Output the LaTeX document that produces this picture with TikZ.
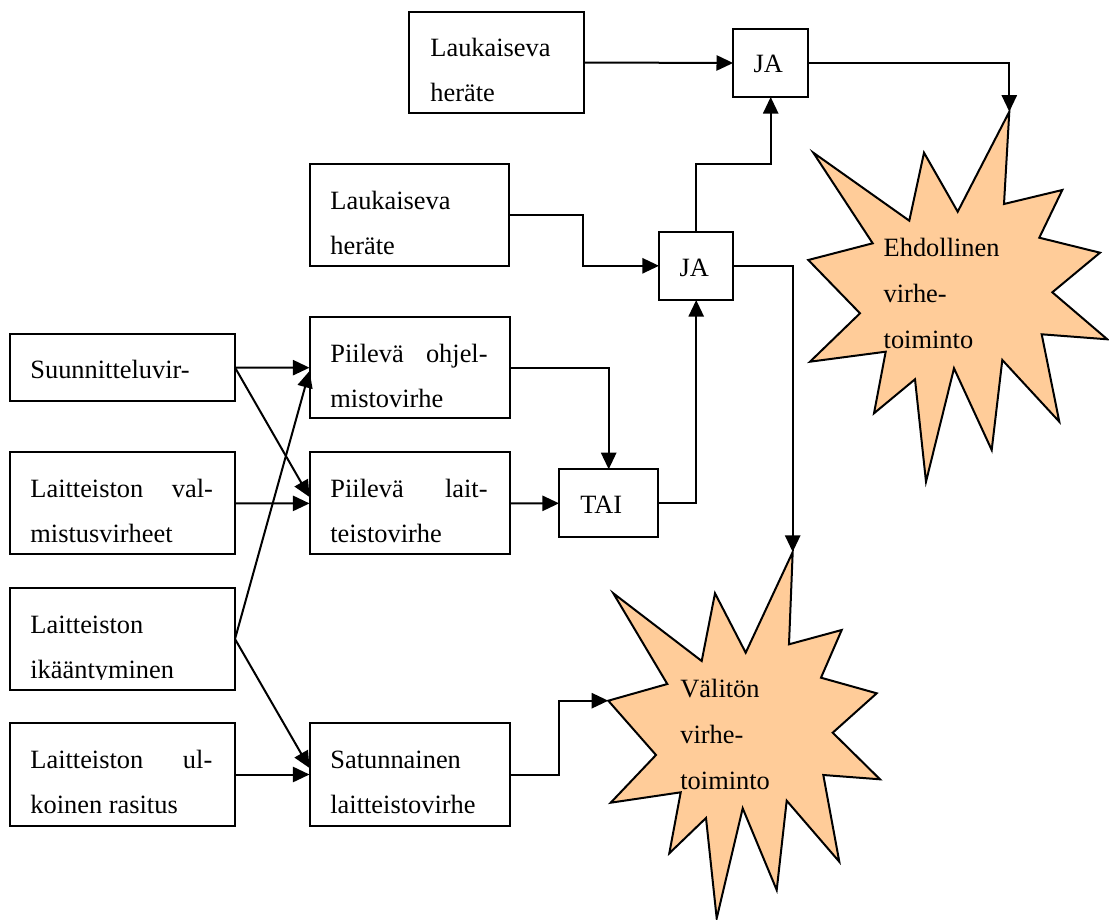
\documentclass[tikz,border=0pt]{standalone}
\usepackage{fontspec}
\setmainfont{Liberation Serif}
\usetikzlibrary{arrows.meta}
\definecolor{peach}{RGB}{255,204,153}
\begin{document}
\begin{tikzpicture}[x=0.5pt,y=-0.5pt,
  box/.style={draw, line width=1pt, inner sep=0pt, outer sep=0pt},
  txt/.style={anchor=base west, inner sep=0pt, font=\fontsize{13.2}{15}\selectfont},
  rtxt/.style={anchor=base east, inner sep=0pt, font=\fontsize{13.2}{15}\selectfont},
  conn/.style={line width=1pt, -{Triangle[length=8.3pt,width=7.6pt]}},
  burst/.style={draw, fill=peach, line width=1pt, line join=miter}
]
\useasboundingbox (0,0) rectangle (1109,920);

% stars
\coordinate (s1top) at (1009.3,111.7);
\draw[burst] (s1top) -- (1004,204) -- (1062.3,190) -- (1039.3,237.7) -- (1100,252.7)
  -- (1052.3,292.3) -- (1107.3,339.3) -- (1041.7,334.3) -- (1059.3,421.7) -- (1002.3,360)
  -- (991.7,450) -- (954,368.3) -- (926,481.7) -- (915,379.3) -- (874,413.3) -- (885.7,351.7)
  -- (810,361.7) -- (860,313.3) -- (808.3,260) -- (872.7,243.3) -- (813.3,152.7)
  -- (909.3,220.7) -- (924,152.7) -- (957.7,211.7) -- cycle;
\coordinate (s2top) at (792.7,552);
\coordinate (s2left) at (608.3,700.7);
\draw[burst] (s2top) -- (789,644.3) -- (841.7,630) -- (821,677.7) -- (876.7,693.3)
  -- (832.7,732.7) -- (880,779.3) -- (823.3,775) -- (839.3,861.7) -- (786.7,800.7)
  -- (776.7,890) -- (742.7,808.3) -- (716.7,918.3) -- (706,818) -- (669.3,853.3)
  -- (680.7,792.3) -- (610.7,802.7) -- (656,755) -- (s2left) -- (667.3,684)
  -- (613.3,593.3) -- (701.7,661) -- (715,593.3) -- (745.7,652.7) -- cycle;

% boxes
\node[box, minimum width=87.5pt, minimum height=50.5pt] (topL) at (496.5,62.5) {};
\node[box, minimum width=37.6pt, minimum height=34pt] (ja1) at (770.7,63) {};
\node[box, minimum width=99.7pt, minimum height=50.7pt] (L2) at (409.7,215) {};
\node[box, minimum width=37.2pt, minimum height=34.2pt] (ja2) at (696.2,265.8) {};
\node[box, minimum width=112.5pt, minimum height=33.5pt] (sv) at (122.5,367.5) {};
\node[box, minimum width=100pt, minimum height=50.7pt] (po) at (409.5,367.7) {};
\node[box, minimum width=112.5pt, minimum height=51pt] (lv) at (122.5,503.3) {};
\node[box, minimum width=100pt, minimum height=51pt] (pl) at (409.5,503.4) {};
\node[box, minimum width=49.7pt, minimum height=34pt] (tai) at (608.7,503.3) {};
\node[box, minimum width=112.5pt, minimum height=51pt] (ik) at (122.5,639) {};
\node[box, minimum width=112.5pt, minimum height=51.2pt] (ul) at (122.5,774.5) {};
\node[box, minimum width=100.1pt, minimum height=51.2pt] (sat) at (409.6,774.5) {};

% texts
\node[txt] (t1a) at (430,57) {Laukaiseva};
\node[txt] (t1b) at (430,102) {heräte};
\node[txt] (tja1) at (753.3,72.7) {JA};
\node[txt] (t2a) at (330,209) {Laukaiseva};
\node[txt] (t2b) at (330,254) {heräte};
\node[txt] (tja2) at (679.3,276) {JA};
\node[txt] (tsv) at (30,378) {Suunnitteluvir-};
\node[txt] (tpoa) at (330,362) {Piilevä};
\node[rtxt] (tpob) at (488,362) {ohjel-};
\node[txt] (tpoc) at (330,407) {mistovirhe};
\node[txt] (tlva) at (30,497.5) {Laitteiston};
\node[rtxt] (tlvb) at (213.3,497.5) {val-};
\node[txt] (tlvc) at (30,542.5) {mistusvirheet};
\node[txt] (tpla) at (330,497.5) {Piilevä};
\node[rtxt] (tplb) at (488,497.5) {lait-};
\node[txt] (tplc) at (330,542.5) {teistovirhe};
\node[txt] (ttai) at (580,513.3) {TAI};
\node[txt] (tika) at (30,633) {Laitteiston};
\begin{scope}
\clip (12,600) rectangle (233,679.5);
\node[txt] (tikb) at (30,678) {ikääntyminen};
\end{scope}
\node[txt] (tula) at (30,768.3) {Laitteiston};
\node[rtxt] (tulb) at (212.7,768.3) {ul-};
\node[txt] (tulc) at (30,813.3) {koinen rasitus};
\node[txt] (tsata) at (330,768.3) {Satunnainen};
\node[txt] (tsatb) at (330,813.3) {laitteistovirhe};
\node[txt] (te1) at (883.3,256.7) {Ehdollinen};
\node[txt] (te2) at (883.3,302.8) {virhe-};
\node[txt] (te3) at (883.3,348.3) {toiminto};
\node[txt] (tv1) at (680,697) {Välitön};
\node[txt] (tv2) at (680,743) {virhe-};
\node[txt] (tv3) at (680,789) {toiminto};

% helper coordinates
\coordinate (poin) at (309.5,371);
\coordinate (plin) at (309.5,497);
\coordinate (satin) at (309.5,768);

% connectors
\draw[conn] (topL.east) -- (ja1.west);
\draw[conn] (ja1.east) -| (s1top);
\draw[conn] (L2.east) -- ++(73.5,0) |- (ja2.west);
\draw[conn] (ja2.north) -- (ja2.north |- L2.north) -| (ja1.south);
\draw[conn] (ja2.east) -| (s2top);
\draw[conn] (po.east) -| (tai.north);
\draw[conn] (tai.east) -| (ja2.south);
\draw[conn] (pl.east) -- (tai.west);
\draw[conn] (sv.east) -- (po.west);
\draw[conn] (sv.east) -- (plin);
\draw[conn] (lv.east) -- (pl.west);
\draw[conn] (ik.east) -- (poin);
\draw[conn] (ik.east) -- (satin);
\draw[conn] (ul.east) -- (sat.west);
\draw[conn] (sat.east) -- ++(49,0) |- (s2left);
\end{tikzpicture}
\end{document}
